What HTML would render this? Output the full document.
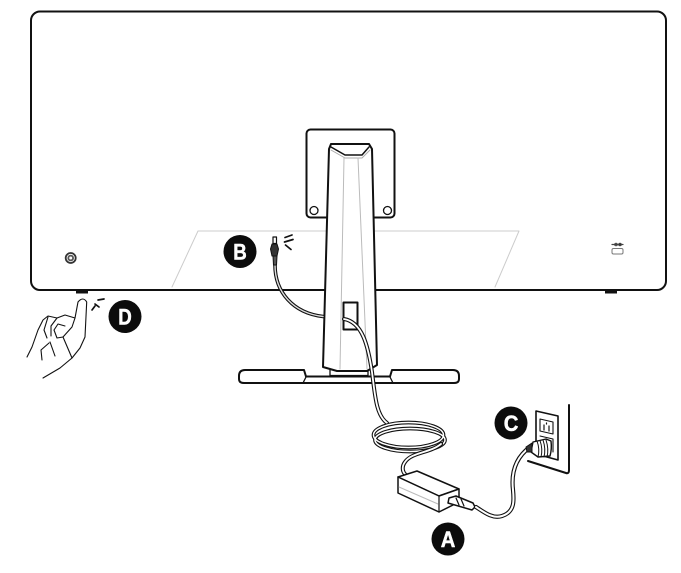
<!DOCTYPE html>
<html><head><meta charset="utf-8"><style>
html,body{margin:0;padding:0;background:#fff}
svg{display:block}
text{font-family:"Liberation Sans",sans-serif;font-weight:700;font-size:22px;fill:#fff;text-anchor:middle}
</style></head><body>
<svg width="681" height="573" viewBox="0 0 681 573" fill="none" stroke="#111" stroke-linecap="round" stroke-linejoin="round">
<!-- monitor -->
<rect x="31" y="11.500" width="635" height="278.500" rx="9" stroke-width="2"/>
<path d="M198 231H519L495 287M198 231L172 287" stroke="#ccc" stroke-width="1"/>
<rect x="76" y="290" width="12" height="3.500" fill="#111" stroke="none"/>
<rect x="605" y="290" width="12" height="3.500" fill="#111" stroke="none"/>
<!-- left button -->
<circle cx="70.700" cy="258" r="5" stroke-width="1.800" stroke="#333"/>
<circle cx="70.700" cy="258" r="2.400" stroke-width="1.800" stroke="#555"/>
<!-- right port -->
<path d="M612 244.500H623" stroke-width="1.200" stroke="#444"/>
<circle cx="616" cy="244.500" r="1.300" stroke-width="1" stroke="#444"/><circle cx="620" cy="244.500" r="1.300" fill="#333" stroke-width="1" stroke="#444"/>
<rect x="612" y="248.500" width="11" height="5.500" rx="1.500" stroke-width="1" stroke="#777"/>
<!-- VESA plate -->
<rect x="306.500" y="129.500" width="88" height="88" rx="4" fill="#fff" stroke-width="2"/>
<circle cx="314" cy="210.500" r="4" stroke-width="1.300"/>
<circle cx="387.500" cy="210.500" r="4" stroke-width="1.300"/>
<!-- base -->
<path d="M304 370H245Q239 370 239 376V379Q239 383 244 383H454Q459 383 459 379V376Q459 370 453 370H392L390 376.500H306Z" fill="#fff" stroke-width="2"/>
<path d="M306 377L303 383M390 377L393 383" stroke-width="1.300"/>
<path d="M330 370V375.500H368V370" stroke-width="1.300"/>
<!-- stand -->
<path d="M329 149L331 144H369L372 149L377 365L367 371H337L323 367Z" fill="#fff" stroke-width="2"/>
<path d="M331 147L345 155H362L369 147" stroke-width="1.500"/>
<path d="M331 150L345 158H362L370 150" stroke="#aaa" stroke-width="1"/>
<path d="M344 158L340 369M358 158L367 369" stroke="#bbb" stroke-width="1"/>
<!-- slot -->
<rect x="343.500" y="302.500" width="14" height="27" fill="#fff" stroke-width="2"/>
<!-- DC cable -->
<path d="M275 265C275 292 293 313 323 316.500" stroke-width="3.600"/>
<path d="M275 265C275 292 293 313 323 316.500" stroke="#ddd" stroke-width="1.400"/>
<!-- jack -->
<rect x="273" y="237" width="3.500" height="6.500" fill="#fff" stroke-width="1.200"/>
<path d="M272 244H277L278.500 249L277 256H272L270.500 249Z" fill="#333" stroke-width="1"/>
<path d="M273 256H277L276.500 265H273.500Z" fill="#555" stroke-width="1"/>
<path d="M285 237.500L292 235M284.500 242L293 239.500M285.500 245L291 249.500" stroke-width="1.700"/>
<!-- power cable from slot -->
<path d="M344 319C362 322 368 345 372 372C375 395 376 415 387 423" stroke-width="4"/>
<path d="M344 319C362 322 368 345 372 372C375 395 376 415 387 423" stroke="#fff" stroke-width="1.800"/>
<!-- coil -->
<g stroke-width="3.700">
<ellipse cx="408.500" cy="435" rx="35" ry="12.500"/>
<ellipse cx="410" cy="440" rx="35" ry="11.500"/>
</g>
<g stroke="#fff" stroke-width="1.500">
<ellipse cx="408.500" cy="435" rx="35" ry="12.500"/>
<ellipse cx="410" cy="440" rx="35" ry="11.500"/>
</g>
<path d="M441 444C430 453 412 452 405 462C402 466 402 471 405 474" stroke-width="4"/>
<path d="M441 444C430 453 412 452 405 462C402 466 402 471 405 474" stroke="#fff" stroke-width="1.800"/>
<!-- adapter -->
<path d="M398 477L417 471L459 489L439 496Z" fill="#fff" stroke-width="1.500"/>
<path d="M398 477V493L439 512L459 502V489L439 496Z" fill="#fff" stroke-width="1.500"/>
<path d="M439 496V512" stroke-width="1.200"/>
<path d="M399 487L438 504" stroke="#bbb" stroke-width="1"/>
<!-- adapter plug -->
<path d="M449 498L456 496L473 503L475 507L472 510L448 503Z" fill="#fff" stroke-width="1.500"/>
<path d="M456 498L459 505M461 499L464 506" stroke-width="1.200"/>
<!-- AC cable -->
<path d="M476 507C485 513 493 519 502 516C515 512 514 500 513 490C511 473 515 458 530 447" stroke-width="4.200"/>
<path d="M476 507C485 513 493 519 502 516C515 512 514 500 513 490C511 473 515 458 530 447" stroke="#fff" stroke-width="2"/>
<!-- wall -->
<path d="M569 405V470Q569 474 566 473L528 461" stroke-width="2"/>
<path d="M536 411L558 416V460L536 454Z" fill="#fff" stroke-width="1.600"/>
<path d="M540 419L553 422V434L540 431Z" stroke-width="1.100"/>
<path d="M544 425V430M549 426V431M546.500 423V424" stroke-width="1.200"/>
<path d="M540 436L553 439V452" stroke-width="1.100"/>
<!-- wall plug -->
<path d="M533 442L546 439L551 441Q552 449 550 456L538 457L531 452Z" fill="#fff" stroke-width="1.400"/>
<path d="M537 441Q540 449 538 457M540 440.500Q543 449 541 457M543 440Q546 449 544 457M546 440Q549 449 547 457" stroke-width="1"/>
<path d="M526 447L532 443V452L527 452Z" fill="#333" stroke-width="1"/>
<!-- hand -->
<g stroke-width="1.100">
<path d="M75 318L78 302Q83 296 86.700 302L85 337L80 348L72 358L60 368L43 378"/>
<path d="M75 318L65 315L57 318L48 316L43 320L38 330L32 347L27 357"/>
<path d="M75 318L72 327L63 337L57 338L54 330L58 324L65 326"/>
<path d="M57 318L51 326L51 336"/>
<path d="M48 317L44 330L47 338M50 342L55 356M42 360L41 350L49 343"/>
<path d="M63 337L72 358"/>
</g>
<path d="M98 300L104 299M95 304L99 307M92 310L95 306" stroke-width="1.700"/>
<!-- badges -->
<g fill="#0c0c0c" stroke="none">
<circle cx="240" cy="251.500" r="16.500"/>
<circle cx="125" cy="316.500" r="16.500"/>
<circle cx="511" cy="423" r="16.500"/>
<circle cx="448" cy="539" r="16.500"/>
</g>
<g stroke="#fff" stroke-width=".5">
<text transform="translate(240 259.500) scale(.85 1)">B</text>
<text transform="translate(125 324.500) scale(.85 1)">D</text>
<text transform="translate(511 431) scale(.92 1)">C</text>
<text transform="translate(448 547) scale(.92 1)">A</text>
</g>
</svg>
</body></html>
